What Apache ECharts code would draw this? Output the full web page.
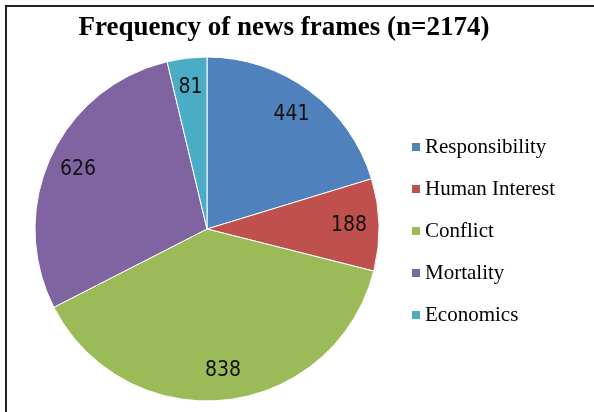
<!DOCTYPE html>
<html>
<head>
<meta charset="utf-8">
<title>Frequency of news frames</title>
<script src="https://cdn.jsdelivr.net/npm/echarts@6/dist/echarts.min.js"></script>
<style>
  body { margin: 0; background: #fff; }
  #main { width: 594px; height: 412px; }
</style>
</head>
<body>
<div id="main"></div>
<script type="text/javascript">
// frames and their counts (n = 2174)
var frames = ['Responsibility', 'Human Interest', 'Conflict', 'Mortality', 'Economics'];
var counts = [441, 188, 838, 626, 81];
var colors = ['#4F81BD', '#C0504D', '#9BBB59', '#8064A2', '#4BACC6'];

var myChart = echarts.init(document.getElementById('main'));

var pieData = frames.map(function (name, i) {
    return { name: name, value: counts[i], itemStyle: { color: colors[i] } };
});

var option = {
    animation: false,
    title: {
        text: 'Frequency of news frames (n=2174)',
        left: 284,
        textAlign: 'center',
        top: 15,
        padding: 0,
        textStyle: {
            fontFamily: '"Liberation Serif", "Times New Roman", serif',
            fontWeight: 'bold',
            fontSize: 27,
            color: '#000'
        }
    },
    legend: {
        data: frames,
        orient: 'vertical',
        left: 410,
        top: 136,
        padding: 0,
        itemWidth: 10,
        itemHeight: 10,
        itemGap: 20,
        icon: 'rect',
        textStyle: {
            fontFamily: '"Liberation Serif", "Times New Roman", serif',
            fontSize: 21,
            lineHeight: 22,
            padding: [0, 0, 0, -1],
            color: '#000'
        }
    },
    graphic: [{
        type: 'rect',
        silent: true,
        shape: { x: 6, y: 6, width: 700, height: 500 },
        style: { fill: 'none', stroke: '#222', lineWidth: 2 }
    }],
    series: [{
        type: 'pie',
        center: [207, 229],
        radius: 172,
        startAngle: 90,
        clockwise: true,
        label: { show: false },
        labelLine: { show: false },
        itemStyle: { borderColor: '#fff', borderWidth: 1 },
        emphasis: { disabled: true },
        data: pieData
    }, {
        // transparent ring only used to place the value labels near the rim
        type: 'pie',
        center: [207, 229],
        radius: [106, 172],
        startAngle: 90,
        clockwise: true,
        silent: true,
        itemStyle: { color: 'transparent' },
        label: {
            show: true,
            position: 'inside',
            formatter: '{c}',
            fontFamily: '"DejaVu Sans Condensed", sans-serif',
            fontSize: 21,
            color: '#111'
        },
        labelLine: { show: false },
        emphasis: { disabled: true },
        data: frames.map(function (name, i) {
            return { name: name, value: counts[i] };
        })
    }]
};

myChart.setOption(option);
</script>
</body>
</html>
